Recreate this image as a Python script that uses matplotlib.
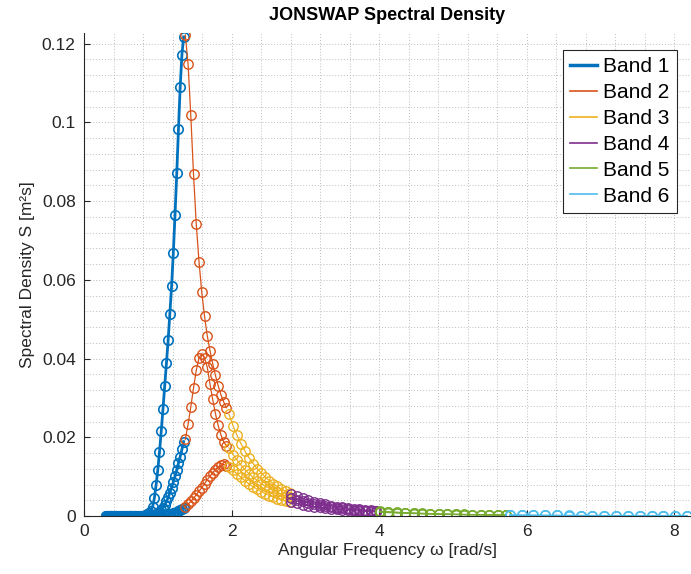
import matplotlib
matplotlib.use('Agg')
import matplotlib.pyplot as plt
from matplotlib.ticker import MultipleLocator, FuncFormatter
from matplotlib.lines import Line2D

# JONSWAP spectral density for three sea states, split into 6 frequency bands
# values

# frequencies of each band [rad/s]
omega_b1 = [0.300, 0.323, 0.347, 0.370, 0.393, 0.417, 0.440, 0.463, 0.487, 0.510,
            0.533, 0.557, 0.580, 0.603, 0.627, 0.650, 0.673, 0.697, 0.720, 0.743,
            0.767, 0.790, 0.813, 0.837, 0.860, 0.883, 0.907, 0.930, 0.953, 0.977,
            1.000, 1.023, 1.047, 1.070, 1.093, 1.117, 1.140, 1.163, 1.187, 1.210,
            1.233, 1.257, 1.280, 1.303, 1.327, 1.350]
omega_b2 = [1.373, 1.410, 1.447, 1.484, 1.521, 1.559, 1.596, 1.633, 1.670, 1.707,
            1.744, 1.781, 1.818, 1.855, 1.892, 1.930]
omega_b3 = [1.965, 2.020, 2.074, 2.129, 2.184, 2.239, 2.293, 2.348, 2.403, 2.457,
            2.512, 2.567, 2.621, 2.676, 2.731, 2.785]
omega_b4 = [2.810, 2.887, 2.963, 3.040, 3.117, 3.193, 3.270, 3.347, 3.423, 3.500,
            3.577, 3.653, 3.730, 3.807, 3.883, 3.960]
omega_b5 = [4.010, 4.124, 4.238, 4.352, 4.466, 4.580, 4.694, 4.808, 4.922, 5.036,
            5.150, 5.264, 5.378, 5.492, 5.606, 5.720]
omega_b6 = [5.77, 5.93, 6.09, 6.25, 6.41, 6.57, 6.73, 6.89, 7.05, 7.21,
            7.37, 7.53, 7.69, 7.85, 8.01, 8.17]

# sea state A (highest peak)
sa_b1 = [0, 0, 0, 0, 0, 0, 0, 0, 0, 0,
         0, 0, 0, 0, 0, 0, 0, 0, 0, 0,
         0, 0, 0.0001, 0.0002, 0.0004, 0.0007, 0.0013, 0.0024, 0.0045, 0.0079,
         0.0117, 0.0163, 0.0216, 0.0271, 0.0329, 0.0388, 0.0447, 0.0513, 0.0584, 0.0668,
         0.0764, 0.0871, 0.0983, 0.1089, 0.1172, 0.1217]
sa_b2 = [0.1222, 0.1148, 0.1018, 0.0868, 0.0742, 0.0645, 0.0568, 0.0508, 0.0458, 0.0420,
         0.0387, 0.0357, 0.0331, 0.0308, 0.0290, 0.0275]
sa_b3 = [0.0258, 0.0229, 0.0205, 0.0183, 0.0164, 0.0147, 0.0133, 0.0120, 0.0109, 0.0099,
         0.0090, 0.0082, 0.0075, 0.0068, 0.0063, 0.0058]
sa_b4 = [0.00563, 0.00500, 0.00448, 0.00401, 0.00360, 0.00325, 0.00293, 0.00265, 0.00241, 0.00219,
         0.00199, 0.00182, 0.00167, 0.00152, 0.00140, 0.00129]
sa_b5 = [0.00122, 0.00108, 0.00096, 0.00085, 0.00076, 0.00068, 0.00061, 0.00055, 0.00049, 0.00044,
         0.00040, 0.00036, 0.00033, 0.00030, 0.00027, 0.00025]
sa_b6 = [0.00023, 0.00020, 0.00018, 0.00016, 0.00014, 0.00013, 0.00012, 0.00011, 0.00010, 0.00009,
         0.00008, 0.00007, 0.00007, 0.00006, 0.00006, 0.00005]

# sea state B (middle peak)
sb_b1 = [0, 0, 0, 0, 0, 0, 0, 0, 0, 0,
         0, 0, 0, 0, 0, 0, 0, 0, 0, 0,
         0, 0, 0, 0, 0, 0, 0.0001, 0.0002, 0.0003, 0.0004,
         0.0007, 0.0010, 0.0015, 0.0021, 0.0028, 0.0037, 0.0047, 0.0059, 0.0072, 0.0086,
         0.0101, 0.0117, 0.0134, 0.0151, 0.0169, 0.0189]
sb_b2 = [0.0195, 0.0233, 0.0277, 0.0325, 0.0370, 0.0402, 0.0412, 0.0402, 0.0378, 0.0335,
         0.0296, 0.0260, 0.0230, 0.0206, 0.0189, 0.0178]
sb_b3 = [0.0173, 0.0156, 0.0142, 0.0129, 0.0117, 0.0107, 0.0098, 0.0090, 0.0082, 0.0076,
         0.0070, 0.0064, 0.0060, 0.0055, 0.0051, 0.0048]
sb_b4 = [0.00460, 0.00413, 0.00372, 0.00336, 0.00304, 0.00276, 0.00251, 0.00229, 0.00209, 0.00191,
         0.00175, 0.00161, 0.00148, 0.00137, 0.00126, 0.00117]
sb_b5 = [0.00110, 0.00098, 0.00087, 0.00078, 0.00069, 0.00062, 0.00056, 0.00050, 0.00045, 0.00041,
         0.00037, 0.00034, 0.00031, 0.00028, 0.00026, 0.00024]
sb_b6 = [0.00022, 0.00019, 0.00017, 0.00015, 0.00014, 0.00012, 0.00011, 0.00010, 0.00009, 0.00008,
         0.00008, 0.00007, 0.00006, 0.00006, 0.00005, 0.00005]

# sea state C (lowest peak)
sc_b1 = [0, 0, 0, 0, 0, 0, 0, 0, 0, 0,
         0, 0, 0, 0, 0, 0, 0, 0, 0, 0,
         0, 0, 0, 0, 0, 0, 0, 0, 0, 0,
         0, 0, 0.0001, 0.0001, 0.0002, 0.0002, 0.0003, 0.0004, 0.0005, 0.0007,
         0.0008, 0.0010, 0.0012, 0.0015, 0.0017, 0.0020]
sc_b2 = [0.0024, 0.0030, 0.0037, 0.0045, 0.0054, 0.0063, 0.0072, 0.0082, 0.0092, 0.0101,
         0.0110, 0.0118, 0.0124, 0.0129, 0.0131, 0.0128]
sc_b3 = [0.0124, 0.0116, 0.0107, 0.0098, 0.0089, 0.0081, 0.0074, 0.0068, 0.0062, 0.0057,
         0.0052, 0.0048, 0.0044, 0.0041, 0.0038, 0.0036]
sc_b4 = [0.00350, 0.00318, 0.00289, 0.00264, 0.00241, 0.00221, 0.00203, 0.00186, 0.00172, 0.00159,
         0.00147, 0.00136, 0.00126, 0.00117, 0.00109, 0.00102]
sc_b5 = [0.00097, 0.00087, 0.00078, 0.00069, 0.00062, 0.00056, 0.00050, 0.00045, 0.00041, 0.00037,
         0.00034, 0.00031, 0.00028, 0.00026, 0.00024, 0.00022]
sc_b6 = [0.00020, 0.00018, 0.00016, 0.00014, 0.00013, 0.00012, 0.00011, 0.00010, 0.00009, 0.00008,
         0.00007, 0.00007, 0.00006, 0.00005, 0.00005, 0.00004]

band_labels = ['Band 1', 'Band 2', 'Band 3', 'Band 4', 'Band 5', 'Band 6']
band_colors = ['#0072BD', '#D95319', '#EDB120', '#7E2F8E', '#77AC30', '#4DBEEE']

omegas = [omega_b1, omega_b2, omega_b3, omega_b4, omega_b5, omega_b6]
curves = [[sa_b1, sa_b2, sa_b3, sa_b4, sa_b5, sa_b6],
          [sb_b1, sb_b2, sb_b3, sb_b4, sb_b5, sb_b6],
          [sc_b1, sc_b2, sc_b3, sc_b4, sc_b5, sc_b6]]

plt.rcParams['font.family'] = ['Liberation Sans', 'DejaVu Sans']
dark = '#262626'

fig = plt.figure(figsize=(6.91, 5.74), dpi=100)
ax = fig.add_axes([84/691, 58/574, 607/691, 483/574])

handles = []
for b in range(6):
    lw = 2.0 if b == 0 else 0.9
    mew = 1.2 if b == 0 else 1.0
    for c in curves:
        ax.plot(omegas[b], c[b], '-o', color=band_colors[b], lw=lw, ms=6.8,
                mfc='none', mew=mew)
    handles.append(Line2D([], [], color=band_colors[b], lw=2.5 if b == 0 else 1.2))

ax.set_xlim(0, 8.225)
ax.set_ylim(0, 0.1227)

ax.xaxis.set_major_locator(MultipleLocator(2))
ax.xaxis.set_minor_locator(MultipleLocator(0.4))
ax.yaxis.set_major_locator(MultipleLocator(0.02))
ax.yaxis.set_minor_locator(MultipleLocator(0.004))
ax.yaxis.set_major_formatter(FuncFormatter(lambda v, p: '%g' % round(v, 4)))

ax.grid(which='both', linestyle=(0, (1, 2)), color='#bdbdbd', lw=0.7)
ax.set_axisbelow(True)

ax.spines['top'].set_visible(False)
ax.spines['right'].set_visible(False)
for s in ['left', 'bottom']:
    ax.spines[s].set_color(dark)
    ax.spines[s].set_linewidth(0.8)
ax.tick_params(which='major', direction='in', length=4, color=dark,
               labelcolor=dark, labelsize=12.5, pad=6)
ax.tick_params(which='minor', length=0)

ax.set_xlabel('Angular Frequency ω [rad/s]', fontsize=12.5, color=dark, labelpad=3)
ax.set_ylabel('Spectral Density S [m²s]', fontsize=12.5, color=dark, labelpad=5)
ax.set_title('JONSWAP Spectral Density', fontsize=13, fontweight='bold', pad=9)

leg = ax.legend(handles, band_labels, loc='upper right', bbox_to_anchor=(0.977, 0.965),
                borderaxespad=0, fontsize=15, frameon=True, fancybox=False,
                framealpha=1, edgecolor=dark, handlelength=1.3, handletextpad=0.3,
                labelspacing=0.33, borderpad=0.35)
leg.get_frame().set_linewidth(0.8)

fig.savefig('out.png', dpi=100)
